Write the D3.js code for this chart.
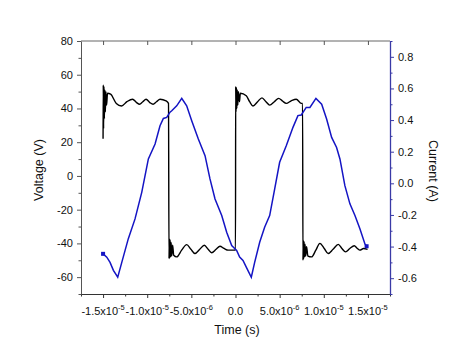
<!DOCTYPE html>
<html>
<head>
<meta charset="utf-8">
<script src="https://cdn.jsdelivr.net/npm/d3@7"></script>
<style>
  body { margin: 0; background: #fff; }
  svg { font-family: 'Liberation Sans', Arial, sans-serif; }
</style>
</head>
<body>
<div id="chart"></div>
<script>
// time in microseconds, voltage in V
const voltTime = [-15.0, -14.98, -14.94, -14.9, -14.85, -14.8, -14.74, -14.68, -14.6, -14.5, -14.15, -13.5, -12.91, -12.3, -11.66, -11.2, -10.87, -10.5, -10.13, -9.7, -9.34, -8.95, -8.55, -7.87, -7.59,
  -7.53, -7.49, -7.45, -7.4, -7.35, -7.29, -7.22, -7.12, -7.0, -6.66, -6.1, -5.53, -5.05, -4.59, -4.05, -3.53, -3.1, -2.7, -2.2, -1.76, -1.3, -0.82, -0.25, 0.0,
  0.02, 0.06, 0.1, 0.15, 0.2, 0.26, 0.34, 0.45, 0.55, 1.22, 1.6, 1.98, 2.5, 3.0, 3.45, 3.87, 4.4, 4.89, 5.3, 5.75, 6.3, 6.88, 7.45, 7.6,
  7.64, 7.68, 7.72, 7.77, 7.82, 7.88, 7.95, 8.05, 8.2, 8.62, 9.1, 9.56, 10.05, 10.5, 11.05, 11.64, 12.05, 12.47, 12.95, 13.45, 13.8, 14.09, 14.5, 14.96]
const voltValue = [22, 54, 28, 53, 34, 51, 38, 50, 42, 49, 48.5, 43, 41.5, 44, 45.5, 43.5, 42.5, 44, 45.5, 43.5, 42.5, 44, 45.5, 44.5, 43,
  -49, -37, -48.5, -38, -48, -39.5, -47.5, -41, -47, -48, -44, -40.7, -43.5, -46, -43.5, -41.1, -43.5, -45.5, -43.5, -41.7, -43, -44, -44, -44,
  53, 38, 52.5, 40, 51, 42, 50, 44, 49, 47.5, 44, 41.5, 44, 46.3, 44, 42, 44, 46, 44.5, 43, 44.5, 45.5, 43, 43,
  -50, -38, -49, -39, -48, -40.5, -47.5, -42, -47.5, -48, -44, -40, -43, -46, -43.5, -40.6, -43, -45, -43, -41.4, -43, -44, -43, -43.5]

// time in microseconds, current in A
const currTime = [-15.0, -14.58, -14.21, -13.83, -13.34, -12.88, -12.14, -11.38, -10.62, -9.87, -9.11, -8.55, -8.17, -7.79, -7.42, -7.22, -6.66, -6.09, -5.53, -4.96, -4.21, -3.45, -2.89, -2.32, -1.56, -1.0, -0.43, 0.13, 0.47, 0.85, 1.22, 1.79, 2.17, 2.74, 3.3, 3.87, 4.44, 5.0, 5.75, 6.51, 7.07, 7.45, 8.01, 8.43, 9.11, 9.76, 10.32, 10.89, 11.45, 11.83, 12.39, 12.96, 13.53, 14.09, 14.66, 14.85]
const currValue = [-0.446, -0.467, -0.5, -0.55, -0.594, -0.5, -0.35, -0.225, -0.057, 0.154, 0.249, 0.364, 0.41, 0.417, 0.45, 0.459, 0.49, 0.537, 0.49, 0.396, 0.28, 0.175, 0.028, -0.099, -0.204, -0.31, -0.394, -0.425, -0.467, -0.488, -0.53, -0.594, -0.5, -0.373, -0.278, -0.204, -0.035, 0.133, 0.238, 0.354, 0.428, 0.432, 0.48, 0.48, 0.537, 0.5, 0.407, 0.29, 0.227, 0.154, -0.015, -0.13, -0.204, -0.288, -0.383, -0.398]

const xTicks = [-15, -10, -5, 0, 5, 10, 15]
const xTickMantissa = ['-1.5x10', '-1.0x10', '-5.0x10', '0.0', '5.0x10', '1.0x10', '1.5x10']
const xTickExp = ['-5', '-5', '-6', '', '-6', '-5', '-5']
const vTicks = [-60, -40, -20, 0, 20, 40, 60, 80]
const iTicks = [-0.6, -0.4, -0.2, 0.0, 0.2, 0.4, 0.6, 0.8]

const width = 452
const height = 352
const plot = { left: 81, right: 390, top: 41, bottom: 294 }

const svg = d3
  .select('#chart')
  .append('svg')
  .attr('width', width)
  .attr('height', height)

const x = d3.scaleLinear().domain([-17.5, 17.5]).range([plot.left, plot.right])
const yV = d3.scaleLinear().domain([-70, 80]).range([plot.bottom, plot.top])
const yI = d3.scaleLinear().domain([-0.7, 0.9]).range([plot.bottom, plot.top])

const blue = '#1414c4'
const axisBlue = '#3a3aa6'

// top border
svg.append('line')
  .attr('x1', plot.left).attr('x2', plot.right)
  .attr('y1', plot.top).attr('y2', plot.top)
  .attr('stroke', '#666').attr('stroke-width', 1)

// top inward ticks
svg.append('g')
  .attr('transform', `translate(0,${plot.top})`)
  .call(d3.axisBottom(x).tickValues(xTicks).tickSize(4).tickSizeOuter(0).tickFormat(''))
  .call(g => g.select('.domain').remove())
  .call(g => g.selectAll('line').attr('stroke', '#555'))

// bottom axis
svg.append('g')
  .attr('transform', `translate(0,${plot.bottom})`)
  .call(d3.axisBottom(x).tickValues([-17.5, -12.5, -7.5, -2.5, 2.5, 7.5, 12.5, 17.5]).tickSize(2.5).tickSizeOuter(0).tickFormat(''))
  .call(g => g.select('.domain').remove())
  .call(g => g.selectAll('line').attr('stroke', '#333'))
svg.append('g')
  .attr('transform', `translate(0,${plot.bottom})`)
  .call(d3.axisBottom(x).tickValues(xTicks).tickSize(4).tickSizeOuter(0).tickFormat(''))
  .call(g => g.select('.domain').attr('stroke', '#333'))
  .call(g => g.selectAll('line').attr('stroke', '#333'))

const xl = svg.append('g')
  .selectAll('text')
  .data(xTicks)
  .enter()
  .append('text')
  .attr('x', d => x(d))
  .attr('y', 315)
  .attr('text-anchor', 'middle')
  .attr('font-size', 11)
  .attr('fill', '#111')
xl.append('tspan').text((d, i) => xTickMantissa[i])
xl.append('tspan')
  .attr('dy', -5)
  .attr('font-size', 7.5)
  .text((d, i) => xTickExp[i])

// left axis
svg.append('g')
  .attr('transform', `translate(${plot.left},0)`)
  .call(d3.axisLeft(yV).tickValues([-70, -50, -30, -10, 10, 30, 50, 70]).tickSize(2.5).tickSizeOuter(0).tickFormat(''))
  .call(g => g.select('.domain').remove())
  .call(g => g.selectAll('line').attr('stroke', '#555'))
svg.append('g')
  .attr('transform', `translate(${plot.left},0)`)
  .call(d3.axisLeft(yV).tickValues(vTicks).tickSize(4).tickSizeOuter(0).tickPadding(4).tickFormat(d => String(d)))
  .call(g => g.select('.domain').attr('stroke', '#555'))
  .call(g => g.selectAll('line').attr('stroke', '#555'))
  .call(g => g.selectAll('text').attr('font-size', 11).attr('fill', '#111').attr('font-family', null))

// right axis
svg.append('g')
  .attr('transform', `translate(${plot.right},0)`)
  .call(d3.axisRight(yI).tickValues([-0.7, -0.5, -0.3, -0.1, 0.1, 0.3, 0.5, 0.7, 0.9]).tickSize(2.5).tickSizeOuter(0).tickFormat(''))
  .call(g => g.select('.domain').remove())
  .call(g => g.selectAll('line').attr('stroke', axisBlue))
svg.append('g')
  .attr('transform', `translate(${plot.right},0)`)
  .call(d3.axisRight(yI).tickValues(iTicks).tickSize(4).tickSizeOuter(0).tickPadding(4).tickFormat(d => d.toFixed(1)))
  .call(g => g.select('.domain').attr('stroke', axisBlue).attr('stroke-width', 1.3))
  .call(g => g.selectAll('line').attr('stroke', axisBlue))
  .call(g => g.selectAll('text').attr('font-size', 11).attr('fill', '#111').attr('font-family', null))

// voltage line
const voltData = voltTime.map((t, i) => [t, voltValue[i]])
svg.append('path')
  .datum(voltData)
  .attr('d', d3.line().curve(d3.curveMonotoneX).x(d => x(d[0])).y(d => yV(d[1])))
  .attr('fill', 'none')
  .attr('stroke', '#000')
  .attr('stroke-width', 1.4)

// current line
const currData = currTime.map((t, i) => [t, currValue[i]])
svg.append('path')
  .datum(currData)
  .attr('d', d3.line().x(d => x(d[0])).y(d => yI(d[1])))
  .attr('fill', 'none')
  .attr('stroke', blue)
  .attr('stroke-width', 1.5)

svg.selectAll('rect.marker')
  .data([currData[0], currData[currData.length - 1]])
  .enter()
  .append('rect')
  .attr('class', 'marker')
  .attr('x', d => x(d[0]) - 2)
  .attr('y', d => yI(d[1]) - 2)
  .attr('width', 4)
  .attr('height', 4)
  .attr('fill', blue)

// axis titles
svg.append('text')
  .attr('transform', 'translate(43,170) rotate(-90)')
  .attr('text-anchor', 'middle')
  .attr('font-size', 12.5)
  .attr('fill', '#111')
  .text('Voltage (V)')

svg.append('text')
  .attr('transform', 'translate(429,171) rotate(90)')
  .attr('text-anchor', 'middle')
  .attr('font-size', 12.5)
  .attr('fill', '#111')
  .text('Current (A)')

svg.append('text')
  .attr('x', 237)
  .attr('y', 334)
  .attr('text-anchor', 'middle')
  .attr('font-size', 12.5)
  .attr('fill', '#111')
  .text('Time (s)')
</script>
</body>
</html>
